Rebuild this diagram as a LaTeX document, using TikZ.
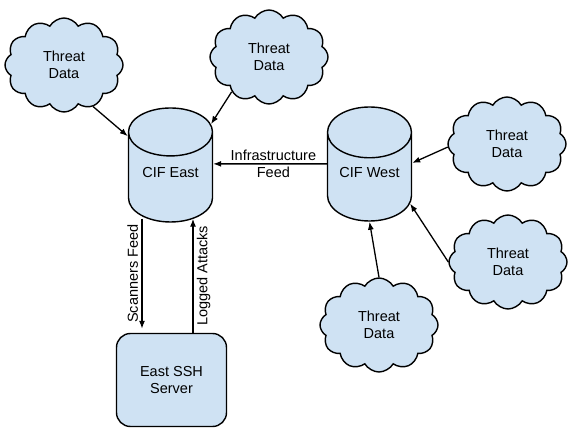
\documentclass[tikz,border=0pt]{standalone}
\usepackage{fontspec}
\setmainfont{Liberation Sans}
\usetikzlibrary{shapes.geometric,shapes.symbols,arrows.meta}
\definecolor{paleblue}{HTML}{CFE2F3}
\begin{document}
\begin{tikzpicture}[x=1pt,y=-1pt,
   font=\fontsize{14.5}{17}\selectfont,
   threat/.style={cloud,cloud puffs=12,cloud puff arc=120,aspect=1.3,draw,line width=1.4pt,
      fill=paleblue,align=center,minimum width=118pt,minimum height=94pt},
   db/.style={cylinder,shape border rotate=90,aspect=0.76,draw,line width=1.4pt,
      fill=paleblue,minimum width=84pt,minimum height=114pt,text height=11pt,text depth=19pt},
   feed/.style={-{Latex[length=8pt,width=6pt]},line width=1.3pt}]
   \useasboundingbox (0,0) rectangle (586,438);
   \node[db] (east) at (170.5,182) {CIF East};
   \node[db] (west) at (369.5,182) {CIF West};
   \node[draw,line width=1.4pt,fill=paleblue,rounded corners=14pt,align=center,
      minimum width=110pt,minimum height=93pt] (ssh) at (171.5,380) {East SSH\\Server};
   \node[threat] (c1) at (64,65) {Threat\\Data};
   \node[threat] (c2) at (269,57) {Threat\\Data};
   \node[threat] (c3) at (507,144) {Threat\\Data};
   \node[threat] (c4) at (508,262) {Threat\\Data};
   \node[threat] (c5) at (379,325) {Threat\\Data};
   % feeds into the two CIF instances
   \draw[feed] (c1.305) -- (east.133);
   \draw[feed] (c2.223) -- (east.55);
   \draw[feed] (c3.183) -- (west.24);
   \draw[feed] (c4.180) -- (west.332);
   \draw[feed] (c5.north) -- (west.270);
   \draw[feed] (west.157) -- node[pos=0.47,align=center]{Infrastructure\\Feed} (east.23);
   % east <-> ssh server
   \draw[feed] ([xshift=-28.5pt,yshift=4pt]east.south) --
      node[midway,rotate=90,anchor=south]{Scanners Feed}
      ([xshift=-28.5pt,yshift=4pt]east.south |- ssh.north);
   \draw[feed] ([xshift=22.5pt]east.south |- ssh.north) --
      node[midway,rotate=90,anchor=north]{Logged Attacks}
      ([xshift=22.5pt,yshift=4pt]east.south);
\end{tikzpicture}
\end{document}
